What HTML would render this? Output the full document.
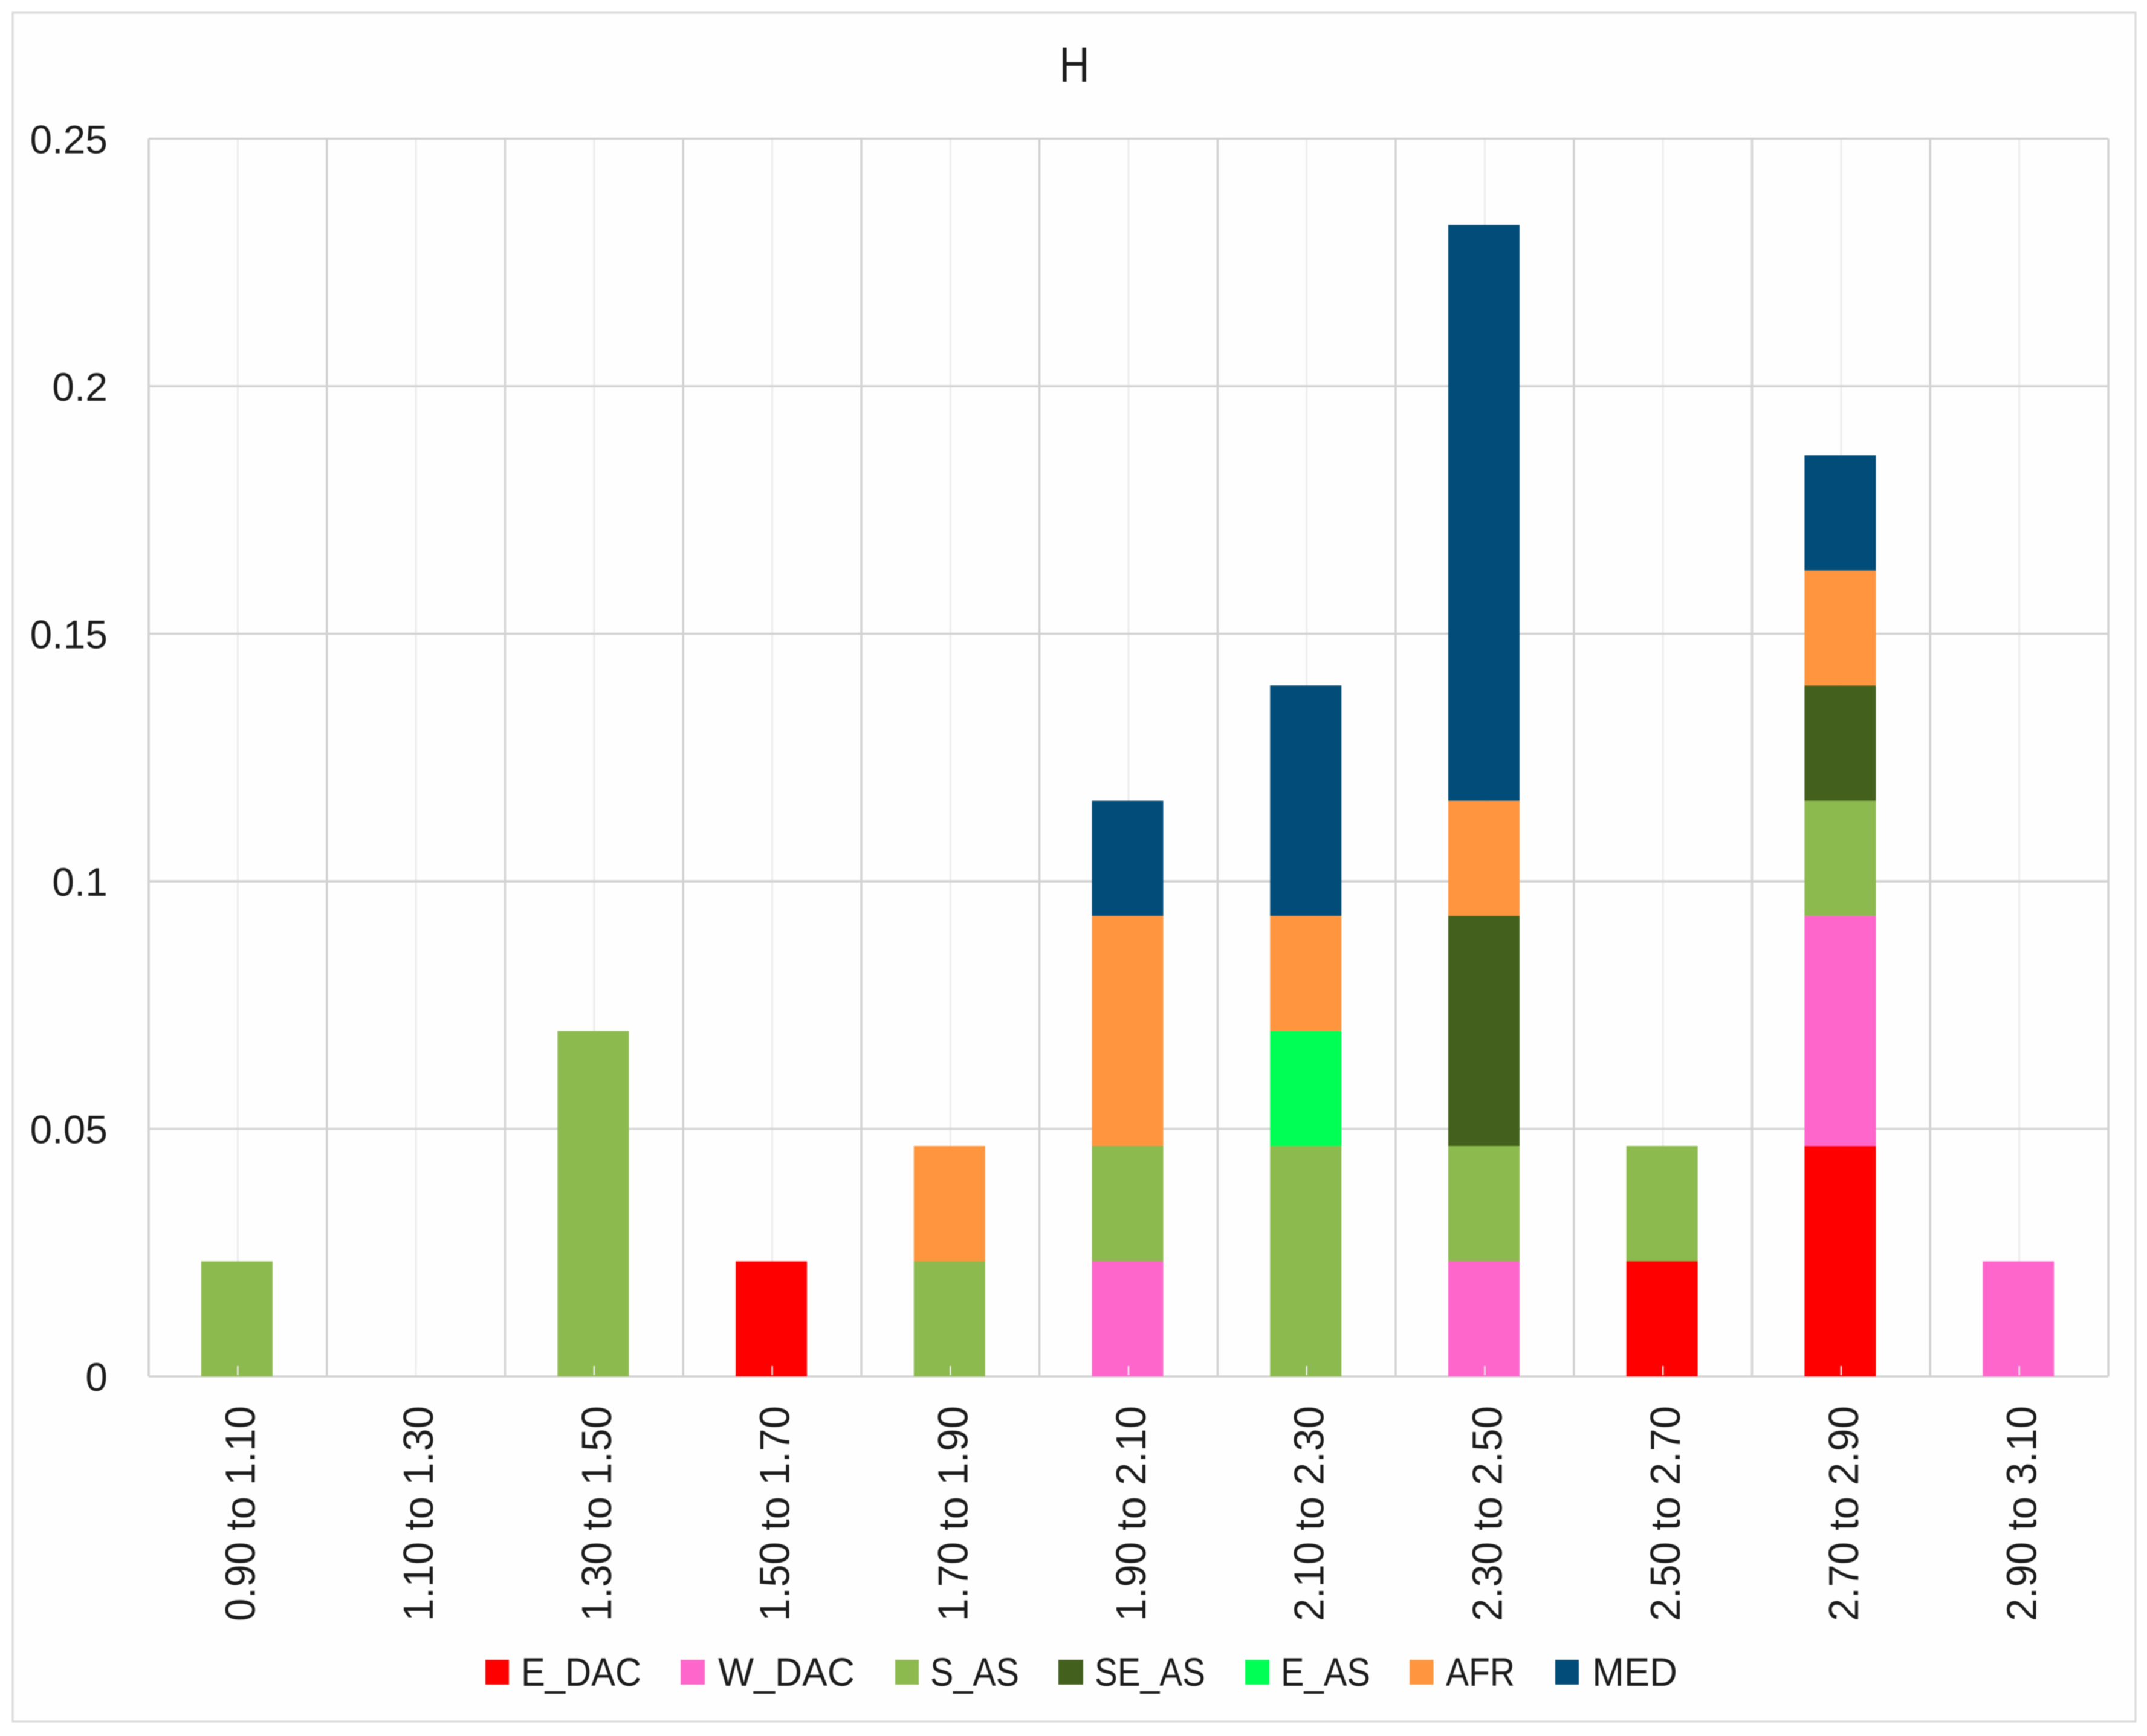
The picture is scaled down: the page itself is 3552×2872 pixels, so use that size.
<!DOCTYPE html>
<html lang="en">
<head>
<meta charset="utf-8">
<title>H stacked bar chart</title>
<style>
html,body{margin:0;padding:0;background:#fff;width:3552px;height:2872px;overflow:hidden}
svg{display:block;filter:blur(0.9px)}
text{font-family:"Liberation Sans",sans-serif;fill:#1c1c1c}
</style>
</head>
<body>
<svg id="chart" xmlns="http://www.w3.org/2000/svg" width="3552" height="2872" viewBox="0 0 3552 2872">
  <rect x="0" y="0" width="3552" height="2872" fill="#ffffff"/>
  <rect x="21" y="21" width="3512" height="2827" fill="#fefefe" stroke="#d8d8d8" stroke-width="3"/>
  <text x="1777.5" y="135" font-size="82" text-anchor="middle" textLength="50" lengthAdjust="spacingAndGlyphs">H</text>
  <g id="grid"></g>
  <g id="bars"></g>
  <g id="ticks"></g>
  <g id="yaxis"></g>
  <g id="xaxis"></g>
  <g font-size="66">
    <g>
      <rect x="803" y="2746" width="39" height="41" fill="#ff0000"/>
      <text x="862" y="2789" textLength="199" lengthAdjust="spacingAndGlyphs">E_DAC</text>
    </g>
    <g>
      <rect x="1126" y="2746" width="40" height="41" fill="#ff66cc"/>
      <text x="1188" y="2789" textLength="226" lengthAdjust="spacingAndGlyphs">W_DAC</text>
    </g>
    <g>
      <rect x="1481" y="2746" width="39" height="41" fill="#8cba4e"/>
      <text x="1539" y="2789" textLength="147" lengthAdjust="spacingAndGlyphs">S_AS</text>
    </g>
    <g>
      <rect x="1751" y="2746" width="41" height="41" fill="#43611c"/>
      <text x="1811" y="2789" textLength="183" lengthAdjust="spacingAndGlyphs">SE_AS</text>
    </g>
    <g>
      <rect x="2060" y="2746" width="40" height="41" fill="#00ff55"/>
      <text x="2119" y="2789" textLength="148" lengthAdjust="spacingAndGlyphs">E_AS</text>
    </g>
    <g>
      <rect x="2332" y="2746" width="39.5" height="41" fill="#ff963f"/>
      <text x="2392" y="2789" textLength="114" lengthAdjust="spacingAndGlyphs">AFR</text>
    </g>
    <g>
      <rect x="2573" y="2746" width="39" height="41" fill="#024c79"/>
      <text x="2634" y="2789" textLength="141" lengthAdjust="spacingAndGlyphs">MED</text>
    </g>
  </g>
</svg>
<script>
const categories = ["0.90 to 1.10","1.10 to 1.30","1.30 to 1.50","1.50 to 1.70","1.70 to 1.90","1.90 to 2.10","2.10 to 2.30","2.30 to 2.50","2.50 to 2.70","2.70 to 2.90","2.90 to 3.10"];
const yTickValues = [0, 0.05, 0.1, 0.15, 0.2, 0.25];
const yTickLabels = ["0", "0.05", "0.1", "0.15", "0.2", "0.25"];
const seriesNames = ["E_DAC", "W_DAC", "S_AS", "SE_AS", "E_AS", "AFR", "MED"];
const seriesColors = ["#ff0000", "#ff66cc", "#8cba4e", "#43611c", "#00ff55", "#ff963f", "#024c79"];
const E_DAC = [0, 0, 0, 0.02326, 0, 0, 0, 0, 0.02326, 0.04651, 0];
const W_DAC = [0, 0, 0, 0, 0, 0.02326, 0, 0.02326, 0, 0.04651, 0.02326];
const S_AS = [0.02326, 0, 0.06977, 0, 0.02326, 0.02326, 0.04651, 0.02326, 0.02326, 0.02326, 0];
const SE_AS = [0, 0, 0, 0, 0, 0, 0, 0.04651, 0, 0.02326, 0];
const E_AS = [0, 0, 0, 0, 0, 0, 0.02326, 0, 0, 0, 0];
const AFR = [0, 0, 0, 0, 0.02326, 0.04651, 0.02326, 0.02326, 0, 0.02326, 0];
const MED = [0, 0, 0, 0, 0, 0.02326, 0.04651, 0.11628, 0, 0.02326, 0];
const seriesValues = [E_DAC, W_DAC, S_AS, SE_AS, E_AS, AFR, MED];

const NS = "http://www.w3.org/2000/svg";
const plotLeft = 246, plotRight = 3488, plotTop = 229.5, plotBottom = 2277, yMax = 0.25;
const bandWidth = (plotRight - plotLeft) / categories.length;
const barWidth = 118;
const barOffset = -1.5;

function bandStart(i) { return plotLeft + i * bandWidth; }
function bandCenter(i) { return bandStart(i) + bandWidth / 2; }
function yScale(v) { return plotBottom - (v / yMax) * (plotBottom - plotTop); }

function make(tag, attrs, parent) {
  const el = document.createElementNS(NS, tag);
  for (const k in attrs) el.setAttribute(k, attrs[k]);
  parent.appendChild(el);
  return el;
}
function slug(s) { return s.toLowerCase().replace(/[^a-z0-9]+/g, '-'); }

const grid = document.getElementById('grid');
const bars = document.getElementById('bars');
const ticks = document.getElementById('ticks');
const yaxis = document.getElementById('yaxis');
const xaxis = document.getElementById('xaxis');

// minor vertical gridlines at category centres
categories.forEach(function (c, i) {
  const x = bandCenter(i);
  const el = make('line', {x1: x, x2: x, y1: plotTop, y2: plotBottom, stroke: '#ececec', 'stroke-width': 3}, grid);
  
  
});
// major vertical gridlines at category boundaries
for (let i = 0; i <= categories.length; i++) {
  const x = bandStart(i);
  const el = make('line', {x1: x, x2: x, y1: plotTop, y2: plotBottom, stroke: '#d2d2d2', 'stroke-width': 3.5}, grid);
  
  
}
// horizontal gridlines and y tick labels
yTickValues.forEach(function (v, i) {
  const y = yScale(v);
  const line = make('line', {x1: plotLeft, x2: plotRight, y1: y, y2: y, stroke: '#d2d2d2', 'stroke-width': 3.5}, grid);
  
  
  const t = make('text', {x: 178, y: y + 24, 'font-size': 66, 'text-anchor': 'end'}, yaxis);
  
  
  t.textContent = yTickLabels[i];
});
// stacked bars
categories.forEach(function (c, i) {
  let total = 0;
  seriesValues.forEach(function (vals, s) {
    const v = vals[i];
    if (!v) return;
    const yTop = yScale(total + v);
    const yBot = yScale(total);
    total += v;
    const r = make('rect', {x: bandCenter(i) + barOffset - barWidth / 2, y: yTop, width: barWidth, height: yBot - yTop, fill: seriesColors[s]}, bars);
    
    
  });
  const tick = make('line', {x1: bandCenter(i), x2: bandCenter(i), y1: plotBottom - 17, y2: plotBottom - 2, stroke: '#eeeeee', 'stroke-width': 2.5}, ticks);
  
  
  const cx = bandCenter(i) + 28;
  const label = make('text', {x: 0, y: 0, 'font-size': 70, textLength: 356, lengthAdjust: 'spacingAndGlyphs', transform: 'translate(' + cx + ',2682) rotate(-90)'}, xaxis);
  
  
  label.textContent = c;
});
</script>
</body>
</html>
